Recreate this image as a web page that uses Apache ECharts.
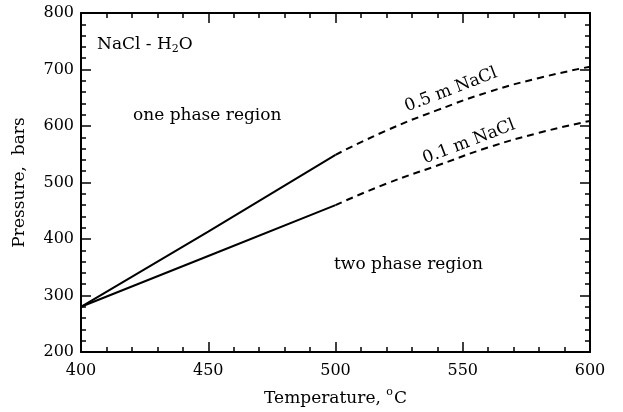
<!DOCTYPE html>
<html>
<head>
<meta charset="utf-8">
<script src="https://cdn.jsdelivr.net/npm/echarts@6/dist/echarts.min.js"></script>
<style>
  html, body { margin: 0; padding: 0; background: #fff; }
  #chart { width: 623px; height: 412px; }
</style>
</head>
<body>
<div id="chart"></div>
<script>
// data (T in degC, P in bars)
const solid05 = [[400, 280], [450, 413], [500, 549]];
const dashed05 = [[500, 549], [520, 592], [540, 628], [560, 660], [580, 685], [600, 705]];
const solid01 = [[400, 280], [450, 370], [500, 460]];
const dashed01 = [[500, 460], [520, 498], [540, 530], [560, 562], [580, 588], [600, 609]];
const xTicks = [400, 450, 500, 550, 600];
const yTicks = [200, 300, 400, 500, 600, 700, 800];

const font = 'DejaVu Serif';
const axisLine = {show: true, lineStyle: {color: '#000', width: 2}};
const tick = {inside: true, length: 10, lineStyle: {color: '#000', width: 1.5}};
const minor = {show: true, splitNumber: 5, length: 5, lineStyle: {color: '#000', width: 1.5}};

const chart = echarts.init(document.getElementById('chart'));

// 标注文字
const notes = [
  {text: 'NaCl - H{sub|2}O', left: 97, top: 36},
  {text: 'one phase region', left: 133, top: 107},
  {text: 'two phase region', left: 334, top: 256}
];

const option = {
  animation: false,
  grid: {left: 81, right: 33, top: 13, bottom: 60},
  xAxis: [
    {
      type: 'value', min: xTicks[0], max: xTicks[xTicks.length - 1], interval: 50,
      name: 'Temperature, {sup|o}C', nameLocation: 'middle', nameGap: 35,
      nameTextStyle: {fontFamily: font, fontSize: 17, color: '#000',
        rich: {sup: {fontFamily: font, fontSize: 11, verticalAlign: 'top', padding: [0, 1, 12, 0]}}},
      axisLine: axisLine, axisTick: tick, minorTick: minor,
      axisLabel: {fontFamily: font, fontSize: 16, color: '#000', margin: 11},
      splitLine: {show: false}
    },
    {
      type: 'value', position: 'top', min: 400, max: 600, interval: 50,
      axisLine: axisLine, axisTick: tick, minorTick: minor,
      axisLabel: {show: false}, splitLine: {show: false}
    }
  ],
  yAxis: [
    {
      type: 'value', min: yTicks[0], max: yTicks[yTicks.length - 1], interval: 100,
      name: 'Pressure,  bars', nameLocation: 'middle', nameGap: 53,
      nameTextStyle: {fontFamily: font, fontSize: 17, color: '#000'},
      axisLine: axisLine, axisTick: tick, minorTick: minor,
      axisLabel: {fontFamily: font, fontSize: 16, color: '#000', margin: 7},
      splitLine: {show: false}
    },
    {
      type: 'value', position: 'right', min: 200, max: 800, interval: 100,
      axisLine: axisLine, axisTick: tick, minorTick: minor,
      axisLabel: {show: false}, splitLine: {show: false}
    }
  ],
  series: [
    {type: 'line', data: solid05, smooth: true, symbol: 'none', lineStyle: {color: '#000', width: 2}},
    {type: 'line', data: solid01, smooth: true, symbol: 'none', lineStyle: {color: '#000', width: 2}},
    {type: 'line', data: dashed05, smooth: true, symbol: 'none', lineStyle: {color: '#000', width: 2, type: [7, 5]}},
    {type: 'line', data: dashed01, smooth: true, symbol: 'none', lineStyle: {color: '#000', width: 2, type: [7, 5]}}
  ],
  graphic: notes.map(n => ({
    type: 'text', left: n.left, top: n.top,
    style: {text: n.text, fontFamily: font, fontSize: 17, fill: '#000',
      rich: {sub: {fontFamily: font, fontSize: 11, verticalAlign: 'bottom', padding: [9, 0, 0, 0]}}}
  })).concat([
    {type: 'text', x: 451, y: 90, rotation: 21 * Math.PI / 180,
      style: {text: '0.5 m NaCl', fontFamily: font, fontSize: 17, fill: '#000', align: 'center', verticalAlign: 'middle'}},
    {type: 'text', x: 469, y: 142, rotation: 21 * Math.PI / 180,
      style: {text: '0.1 m NaCl', fontFamily: font, fontSize: 17, fill: '#000', align: 'center', verticalAlign: 'middle'}}
  ])
};

chart.setOption(option);
</script>
</body>
</html>
